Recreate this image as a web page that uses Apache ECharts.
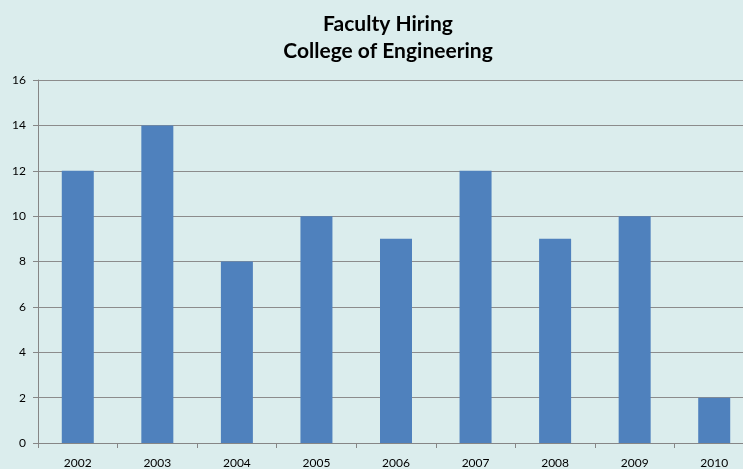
<!DOCTYPE html>
<html>
<head>
<meta charset="utf-8">
<script src="https://cdn.jsdelivr.net/npm/echarts@6/dist/echarts.min.js"></script>
<style>
  html, body { margin: 0; padding: 0; background: #dbeded; }
  #chart { width: 743px; height: 469px; }
</style>
</head>
<body>
<div id="chart"></div>
<script>
// chart data
const years = ["2002", "2003", "2004", "2005", "2006", "2007", "2008", "2009", "2010"];
const hires = [12, 14, 8, 10, 9, 12, 9, 10, 2];
const titleLines = ["Faculty Hiring", "College of Engineering"];

const chart = echarts.init(document.getElementById("chart"));

const option = {
  backgroundColor: "#dbeded",
  animation: false,
  title: {
    text: titleLines.join("\n"),
    left: 383,
    textAlign: "center",
    top: 6,
    textStyle: {
      fontFamily: "Lato",
      fontWeight: "bold",
      fontSize: 21,
      lineHeight: 27,
      color: "#000"
    }
  },
  // plot runs past the right edge of the canvas, as in the original
  grid: {
    left: 38,
    width: 716,
    top: 80,
    bottom: 26,
    outerBoundsMode: "none"
  },
  xAxis: {
    type: "category",
    data: years,
    boundaryGap: true,
    axisLine: { lineStyle: { color: "#868686", width: 1 } },
    axisTick: { show: true, length: 5, lineStyle: { color: "#868686" } },
    axisLabel: {
      color: "#000",
      fontFamily: "Lato",
      fontSize: 12,
      margin: 14
    }
  },
  yAxis: {
    type: "value",
    min: 0,
    max: 16,
    interval: 2,
    axisLine: { show: true, lineStyle: { color: "#868686", width: 1 } },
    axisTick: { show: true, length: 5, lineStyle: { color: "#868686" } },
    axisLabel: {
      color: "#000",
      fontFamily: "Lato",
      fontSize: 12,
      margin: 12
    },
    splitLine: { lineStyle: { color: "#8c8c8c", width: 1 } }
  },
  series: [
    {
      type: "bar",
      data: hires,
      barWidth: 32,
      itemStyle: { color: "#4f81bd" }
    }
  ]
};

chart.setOption(option);
</script>
</body>
</html>
